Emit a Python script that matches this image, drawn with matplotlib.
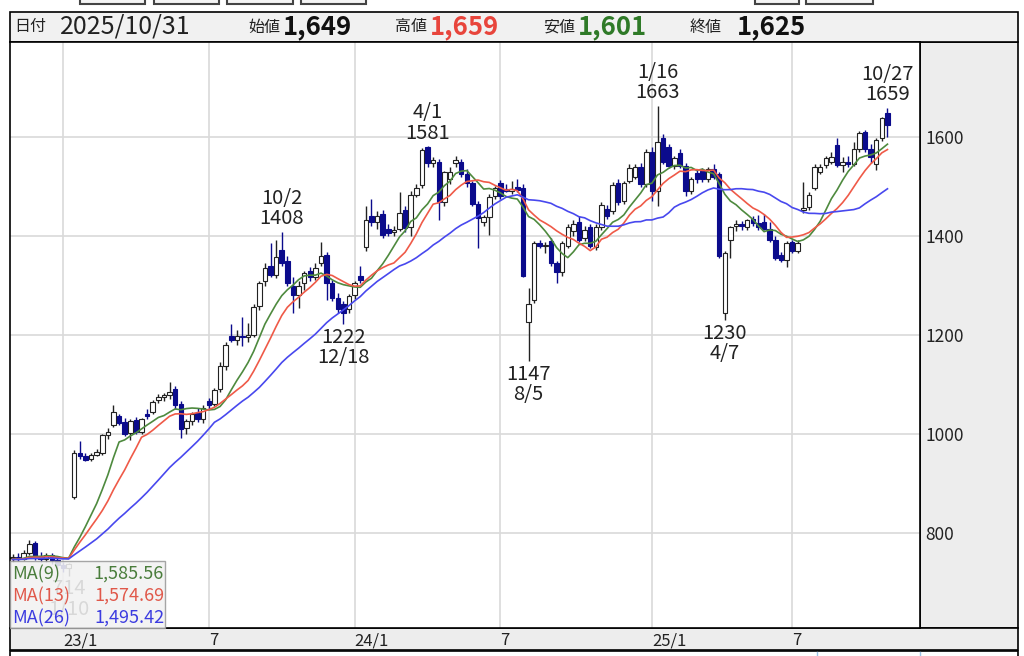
import numpy as np
import pandas as pd
import matplotlib.pyplot as plt
from matplotlib.patches import Rectangle
from matplotlib.transforms import ScaledTranslation

plt.rcParams['font.family'] = ['Noto Sans CJK JP', 'DejaVu Sans']

W, H = 1024, 656

# weekly candles, first week 2022-10-31 .. last week 2025-10-27
first_week = '2022-10-31'
opens = [750, 752, 747, 760, 780, 752, 748, 756, 745,
         735, 730, 873, 962, 955, 950, 958, 962, 998, 1018, 1036, 1025, 1002, 1028, 1005, 1040,
         1044, 1068, 1074, 1078, 1090, 1060, 1012, 1026, 1042, 1030, 1066, 1060, 1090, 1138,
         1198, 1190, 1198, 1196, 1200, 1258, 1310, 1340, 1322, 1372, 1350, 1300, 1280, 1305,
         1330, 1318, 1345, 1362, 1305, 1275, 1262, 1252,
         1280, 1320, 1378, 1440, 1428, 1445, 1415, 1408, 1415, 1452, 1418, 1483, 1503, 1580,
         1548, 1550, 1469, 1515, 1548, 1550, 1525, 1507, 1465, 1428, 1438, 1480, 1508, 1495,
         1490, 1500, 1498, 1226, 1270, 1386, 1380, 1390, 1345, 1328, 1380, 1410, 1428, 1395,
         1418, 1378, 1418, 1455, 1450, 1507, 1470, 1512, 1520, 1540, 1505,
         1570, 1490, 1598, 1580, 1542, 1568, 1542, 1490, 1528, 1532, 1515, 1536, 1525, 1244,
         1392, 1420, 1424, 1418, 1434, 1426, 1428, 1415, 1392, 1362, 1352, 1388, 1370, 1452,
         1458, 1497, 1530, 1543, 1550, 1584, 1543, 1550, 1545, 1575, 1610, 1575, 1545, 1598,
         1649]
highs = [758, 760, 765, 786, 784, 762, 760, 760, 750,
         742, 740, 968, 985, 962, 962, 970, 1000, 1012, 1058, 1040, 1032, 1030, 1034, 1032, 1050,
         1068, 1080, 1082, 1105, 1096, 1066, 1030, 1045, 1052, 1058, 1072, 1092, 1145, 1185,
         1222, 1210, 1236, 1225, 1262, 1310, 1345, 1386, 1392, 1408, 1360, 1318, 1310, 1330,
         1338, 1345, 1388, 1368, 1312, 1285, 1268, 1282,
         1310, 1340, 1460, 1475, 1450, 1452, 1425, 1420, 1488, 1460, 1490, 1505, 1578, 1581,
         1560, 1555, 1532, 1540, 1562, 1556, 1535, 1512, 1470, 1442, 1485, 1502, 1514, 1505,
         1512, 1515, 1505, 1295, 1390, 1392, 1388, 1395, 1350, 1390, 1425, 1432, 1440, 1420,
         1425, 1425, 1468, 1462, 1510, 1515, 1512, 1545, 1545, 1548, 1575,
         1580, 1663, 1606, 1585, 1562, 1575, 1548, 1520, 1535, 1538, 1540, 1545, 1530, 1370,
         1420, 1432, 1430, 1435, 1440, 1442, 1445, 1428, 1400, 1368, 1390, 1392, 1392, 1509,
         1488, 1545, 1545, 1562, 1570, 1598, 1560, 1562, 1590, 1612, 1614, 1585, 1598, 1640,
         1659]
lows = [742, 744, 745, 755, 745, 742, 742, 738, 728,
        722, 714, 868, 950, 945, 946, 955, 958, 990, 1015, 1018, 995, 988, 1000, 1000, 1030,
        1040, 1062, 1066, 1070, 1050, 992, 1000, 1018, 1025, 1022, 1050, 1056, 1085, 1130,
        1185, 1180, 1178, 1185, 1195, 1250, 1300, 1318, 1315, 1340, 1300, 1245, 1255, 1290,
        1310, 1312, 1340, 1270, 1268, 1245, 1222, 1245,
        1272, 1305, 1370, 1420, 1415, 1395, 1400, 1400, 1410, 1408, 1400, 1478, 1498, 1540,
        1540, 1432, 1460, 1505, 1540, 1520, 1500, 1460, 1376, 1420, 1402, 1475, 1475, 1488,
        1485, 1488, 1317, 1147, 1265, 1375, 1365, 1340, 1305, 1320, 1375, 1400, 1388, 1390,
        1375, 1372, 1412, 1435, 1445, 1462, 1465, 1508, 1515, 1500, 1500,
        1470, 1460, 1545, 1538, 1535, 1538, 1480, 1485, 1508, 1510, 1510, 1515, 1355, 1230,
        1356, 1410, 1412, 1412, 1420, 1412, 1412, 1388, 1352, 1348, 1338, 1366, 1365, 1447,
        1452, 1492, 1525, 1538, 1545, 1540, 1530, 1540, 1542, 1570, 1570, 1548, 1533, 1592,
        1601]
closes = [752, 747, 760, 778, 752, 748, 756, 745, 735,
          730, 738, 962, 955, 948, 958, 964, 998, 1004, 1044, 1022, 1000, 1026, 1004, 1030, 1036,
          1065, 1074, 1078, 1085, 1058, 1010, 1026, 1040, 1030, 1052, 1058, 1088, 1138, 1180,
          1190, 1198, 1196, 1200, 1256, 1305, 1335, 1322, 1358, 1345, 1305, 1280, 1300, 1325,
          1318, 1335, 1360, 1305, 1275, 1252, 1245, 1278,
          1305, 1312, 1432, 1428, 1440, 1402, 1406, 1412, 1446, 1416, 1483, 1497, 1574, 1547,
          1554, 1469, 1529, 1530, 1554, 1525, 1508, 1465, 1436, 1438, 1479, 1498, 1480, 1490,
          1495, 1492, 1320, 1262, 1386, 1380, 1382, 1345, 1328, 1386, 1418, 1425, 1392, 1412,
          1380, 1418, 1463, 1440, 1503, 1468, 1508, 1537, 1540, 1505, 1570,
          1490, 1590, 1550, 1542, 1558, 1542, 1490, 1515, 1515, 1515, 1536, 1520, 1360, 1366,
          1418, 1424, 1420, 1432, 1426, 1418, 1415, 1392, 1355, 1352, 1386, 1370, 1386, 1456,
          1483, 1539, 1540, 1558, 1560, 1543, 1550, 1545, 1575, 1608, 1575, 1560, 1594, 1638,
          1625]
# closes of the weeks before the visible window (only feed the moving averages)
prior_closes = [748, 742, 746, 750, 744, 740, 745, 752, 748, 744, 746, 750, 742, 745, 748,
                744, 746, 749, 743, 747, 751, 745, 748, 744, 746]

ma_periods = [9, 13, 26]
ma_colors = ['#4e8a3e', '#ef5a48', '#4848ee']
ma_text_colors = ['#4a7d3c', '#e0584a', '#3c3ce0']

tick_dates = ['2023-01-02', '2023-07-03', '2024-01-01', '2024-07-01', '2025-01-06', '2025-06-30']
tick_labels = ['23/1', '7', '24/1', '7', '25/1', '7']
y_ticks = [800, 1000, 1200, 1400, 1600]

# high / low marks: (week, label)
high_marks = [('2023-10-02', '10/2'), ('2024-04-01', '4/1'),
              ('2025-01-13', '1/16'), ('2025-10-27', '10/27')]
low_marks = [('2023-01-09', '1/10'), ('2023-12-18', '12/18'),
             ('2024-08-05', '8/5'), ('2025-04-07', '4/7')]

header = [('日付', '2025/10/31', '#222222'), ('始値', '1,649', '#111111'),
          ('高値', '1,659', '#e8453c'), ('安値', '1,601', '#2f7a28'),
          ('終値', '1,625', '#111111')]

weeks = pd.date_range(first_week, periods=len(closes), freq='7D')
o, h, l, c = (np.array(a, dtype=float) for a in (opens, highs, lows, closes))
x = np.arange(len(c))
up = c >= o


def fx(px):
    return px / W


def fy(py):
    return 1 - py / H


fig = plt.figure(figsize=(W / 100, H / 100), dpi=100)
ax = fig.add_axes([fx(10), fy(628), fx(920) - fx(10), fy(42) - fy(628)])

# candles
down_col = '#0b0b8c'
ax.vlines(x[up], l[up], h[up], color='#222222', lw=1.0, zorder=2)
ax.vlines(x[~up], l[~up], h[~up], color=down_col, lw=1.0, zorder=2)
body = np.maximum(np.abs(c - o), 1.5)
ax.bar(x[up], body[up], bottom=np.minimum(o, c)[up], width=0.8,
       facecolor='white', edgecolor='#222222', lw=0.8, zorder=2.5)
ax.bar(x[~up], body[~up], bottom=np.minimum(o, c)[~up], width=0.8,
       facecolor=down_col, edgecolor=down_col, lw=0.8, zorder=2.5)

# moving averages
all_closes = pd.Series(prior_closes + closes, dtype=float)
ma_last = []
for n, col in zip(ma_periods, ma_colors):
    ma = all_closes.rolling(n, min_periods=1).mean().iloc[len(prior_closes):].to_numpy()
    ax.plot(x, ma, color=col, lw=1.2, zorder=3)
    ma_last.append(ma[-1])

# high / low labels
for d, lab in high_marks:
    i = weeks.get_loc(pd.Timestamp(d))
    ax.annotate(f'{lab}\n{int(h[i])}', (i, h[i]), xytext=(0, 2), textcoords='offset points',
                ha='center', va='bottom', fontsize=14.5, linespacing=0.95, color='#222222', zorder=4)
for d, lab in low_marks:
    i = weeks.get_loc(pd.Timestamp(d))
    ax.annotate(f'{int(l[i])}\n{lab}', (i, l[i]), xytext=(0, -2), textcoords='offset points',
                ha='center', va='top', fontsize=14.5, linespacing=0.95, color='#222222', zorder=4)

ax.set_xlim(-0.45, 161.8)
ax.set_ylim(608, 1792)
tick_pos = [weeks.get_loc(pd.Timestamp(d)) for d in tick_dates]
ax.set_xticks(tick_pos)
ax.set_xticklabels(tick_labels, ha='left', fontsize=12, color='#222222')
for lbl in ax.get_xticklabels():
    lbl.set_transform(lbl.get_transform() + ScaledTranslation(3 / 100, 0, fig.dpi_scale_trans))
ax.set_yticks(y_ticks)
ax.yaxis.tick_right()
ax.tick_params(axis='y', length=0, pad=4, labelsize=12.5, labelcolor='#222222')
ax.tick_params(axis='x', length=0, pad=3)
ax.grid(True, color='#d9d9d9', lw=1.2, zorder=0)
ax.set_axisbelow(True)
for s in ax.spines.values():
    s.set_color('black')
    s.set_linewidth(1.2)


# frames around the chart
def box(x0, y0, x1, y1, fc, z=-1, ec='black', lw=1.2, alpha=None):
    fig.add_artist(Rectangle((fx(x0), fy(y1)), fx(x1) - fx(x0), fy(y0) - fy(y1),
                             transform=fig.transFigure, facecolor=fc, edgecolor=ec, lw=lw,
                             zorder=z, alpha=alpha))


box(920, 42, 1018, 628, '#ededed')
box(10, 628, 1018, 650, '#ededed')
box(10, 651, 1018, 670, 'white')
box(10, 12, 1018, 42, '#f1f1f1')
for bx0, bx1 in [(80, 145), (154, 219), (227, 293), (301, 366), (755, 799), (806, 873)]:
    box(bx0, -8, bx1, 4, '#f4f4f4', ec='#444444', lw=1.5)
for lx in [817, 920]:
    fig.add_artist(plt.Line2D([fx(lx), fx(lx)], [fy(652), fy(656)], transform=fig.transFigure,
                              color='#9cc3e6', lw=1))

# header texts
hx = [(14, 60), (248, 283), (395, 430), (543, 578), (690, 737)]
for (lab, val, col), (x0, x1) in zip(header, hx):
    fig.text(fx(x0), fy(27), lab, fontsize=11.5, va='center', ha='left', color='#222222')
    fig.text(fx(x1), fy(27), val, fontsize=18 if lab == '日付' else 18.5, va='center',
             ha='left', color=col, fontweight='normal' if lab == '日付' else 'bold')

# moving average legend (semi-transparent over the chart)
box(10, 561, 165, 628, '#f2f2f2', z=5, ec='#9a9a9a', lw=1.0, alpha=0.88)
for k, (n, col, v) in enumerate(zip(ma_periods, ma_text_colors, ma_last)):
    yy = fy(574 + 22 * k)
    fig.text(fx(12), yy, f'MA({n})', fontsize=13, color=col, va='center', ha='left', zorder=6)
    fig.text(fx(164), yy, f'{v:,.2f}', fontsize=13, color=col, va='center', ha='right', zorder=6)

fig.savefig('out.png', dpi=100)
